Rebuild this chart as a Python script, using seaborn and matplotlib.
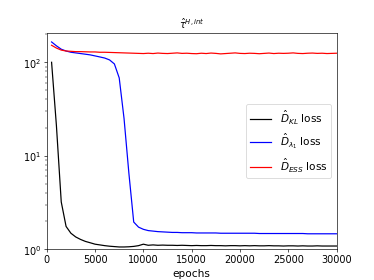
import numpy as np
import pandas as pd
import matplotlib
matplotlib.use("Agg")
import matplotlib.pyplot as plt
import seaborn as sns

## DATA
epochs = np.arange(500, 30001, 500)

kl_loss = [100, 21, 3.2, 1.75, 1.48, 1.35, 1.27, 1.21, 1.17, 1.13,
           1.11, 1.09, 1.075, 1.065, 1.055, 1.055, 1.06, 1.07, 1.09, 1.13,
           1.10, 1.11, 1.10, 1.105, 1.10, 1.10, 1.095, 1.10, 1.095, 1.09,
           1.095, 1.09, 1.09, 1.095, 1.09, 1.09, 1.085, 1.09, 1.09, 1.085,
           1.09, 1.085, 1.09, 1.085, 1.085, 1.09, 1.085, 1.085, 1.08, 1.085,
           1.085, 1.08, 1.085, 1.08, 1.08, 1.085, 1.08, 1.08, 1.08, 1.08]

lam_loss = [165, 150, 138, 132, 128, 126, 124, 122, 120, 117,
            114, 111, 106, 96, 68, 25, 6.5, 1.95, 1.72, 1.63,
            1.58, 1.56, 1.54, 1.53, 1.52, 1.51, 1.51, 1.50, 1.50, 1.50,
            1.49, 1.49, 1.49, 1.49, 1.49, 1.48, 1.48, 1.48, 1.48, 1.48,
            1.48, 1.48, 1.48, 1.47, 1.47, 1.47, 1.47, 1.47, 1.47, 1.47,
            1.47, 1.47, 1.47, 1.46, 1.46, 1.46, 1.46, 1.46, 1.46, 1.46]

ess_loss = [152, 142, 135, 132, 131, 130, 130, 129.5, 129, 129,
            128, 128, 127.5, 127, 126.5, 126, 125.5, 125, 124.5, 124,
            125, 124, 125.5, 124.5, 124, 125, 126, 124.5, 125, 124,
            123.5, 125, 124, 125.5, 124.5, 123, 124, 125, 126, 124.5,
            124, 125, 124.5, 123.5, 124.5, 125.5, 124, 125, 124.5, 125,
            126, 124.5, 124, 125, 125.5, 124.5, 125, 124, 124.5, 125]

labels = [r"$\hat{D}_{KL}$ loss", r"$\hat{D}_{\lambda_1}$ loss", r"$\hat{D}_{ESS}$ loss"]
colors = ["black", "blue", "red"]

df = pd.DataFrame({
    "epochs": np.tile(epochs, 3),
    "loss": np.concatenate([kl_loss, lam_loss, ess_loss]),
    "which": np.repeat(labels, len(epochs)),
})

## PLOT
fig, ax = plt.subplots(figsize=(6.4, 4.8), dpi=58.44)
sns.lineplot(data=df, x="epochs", y="loss", hue="which",
             palette=dict(zip(labels, colors)), linewidth=1.5, ax=ax)
ax.set_yscale("log")
ax.set_ylim(1, 205)
ax.set_xlim(0, 30000)
ax.set_ylabel("")
ax.set_xlabel("epochs", fontsize=13)
ax.tick_params(labelsize=12)
ax.set_title(r"$\hat{\tau}^{H,int}$", fontsize=12)
ax.legend(title=None, fontsize=13, loc="center right")

fig.savefig("out.png", dpi=58.44)
